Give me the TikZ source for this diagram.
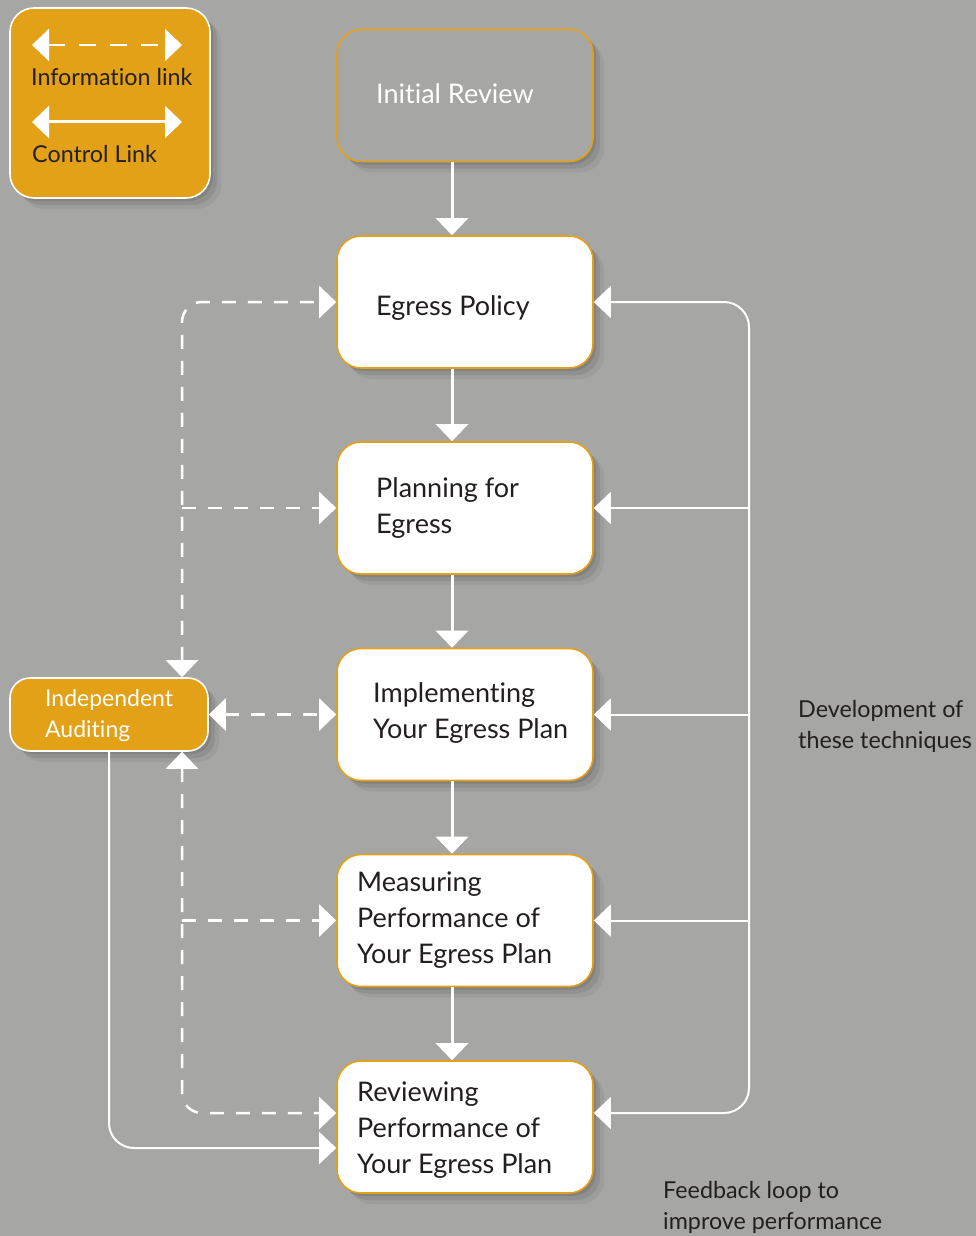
\documentclass[tikz,border=0pt]{standalone}
\usepackage{fontspec}
\setmainfont{Lato}[Ligatures=NoCommon]
\usetikzlibrary{arrows.meta,shadows}
\definecolor{bg}{HTML}{A6A6A5}
\definecolor{org}{HTML}{E3A118}
\definecolor{ink}{HTML}{231F20}
\begin{document}
\begin{tikzpicture}[x=1pt,y=-1pt,
  tri/.tip={Triangle[width=32pt,length=17pt]},
  softshadow/.style={
    drop shadow={shadow xshift=3pt, shadow yshift=-3pt, opacity=0.10, fill=black},
    drop shadow={shadow xshift=7pt, shadow yshift=-7pt, opacity=0.08, fill=black},
    drop shadow={shadow xshift=11pt, shadow yshift=-11pt, opacity=0.05, fill=black}},
  box/.style={draw=org, line width=1.6pt, fill=white, rounded corners=24pt,
    minimum width=256pt, minimum height=132pt, inner sep=0pt, softshadow},
  obox/.style={draw=white, line width=1.6pt, fill=org, inner sep=0pt, softshadow},
  txt/.style={font=\fontsize{27}{36}\selectfont, text=ink, align=left, inner sep=0pt, anchor=base west},
  wtxt/.style={font=\fontsize{23}{31}\selectfont, text=white, align=left, inner sep=0pt, anchor=base west},
  note/.style={font=\fontsize{23.3}{31}\selectfont, text=ink, align=left, inner sep=0pt, anchor=base west},
  ctl/.style={draw=white, line width=3pt},
  fb/.style={draw=white, line width=2pt},
  info/.style={draw=white, line width=2.5pt, dash pattern=on 14pt off 12pt},
]
\fill[bg] (0,0) rectangle (976,1236);
\useasboundingbox (0,0) rectangle (976,1236);

% legend
\node[obox, rounded corners=24pt, minimum width=200pt, minimum height=190pt] (leg) at (110,103) {};
\coordinate (l1a) at (32,45); \coordinate (l1b) at (182,45);
\coordinate (l2a) at (32,122); \coordinate (l2b) at (182,122);
\draw[info, dash pattern=on 17pt off 14pt, {tri}-{tri}] (l1a) -- (l1b);
\draw[ctl, {tri}-{tri}] (l2a) -- (l2b);
\node[note] (linfo) at (31,86) {Information link};
\node[note] (lctl) at (32,162) {Control Link};

% main boxes
\node[box, fill=bg] (ir) at (465,95.5) {};
\node[box] (ep) at (465,302) {};
\node[box] (pf) at (465,508) {};
\node[box] (im) at (465,714.5) {};
\node[box] (ms) at (465,920.5) {};
\node[box] (rv) at (465,1127) {};
\node[obox, rounded corners=20pt, minimum width=198pt, minimum height=73pt] (ia) at (109,714.5) {};

\node[txt, text=white] (tir) at (376,103) {Initial Review};
\node[txt] (tep) at (376,315) {Egress Policy};
\node[txt] (tpf) at (376,533) {Planning for\\Egress};
\node[txt] (tim) at (373,738) {Implementing\\Your Egress Plan};
\node[txt] (tms) at (357,963) {Measuring\\Performance of\\Your Egress Plan};
\node[txt] (trv) at (357,1173) {Reviewing\\Performance of\\Your Egress Plan};
\node[wtxt] (tia) at (45,737) {Independent\\Auditing};

\node[note] (ndev) at (798,748) {Development of\\these techniques};
\node[note] (nfb) at (663,1229) {Feedback loop to\\improve performance};

% vertical flow
\draw[ctl, -{tri}] ([xshift=-13pt]ir.south) -- ([xshift=-13pt]ep.north);
\draw[ctl, -{tri}] ([xshift=-13pt]ep.south) -- ([xshift=-13pt]pf.north);
\draw[ctl, -{tri}] ([xshift=-13pt]pf.south) -- ([xshift=-13pt]im.north);
\draw[ctl, -{tri}] ([xshift=-13pt]im.south) -- ([xshift=-13pt]ms.north);
\draw[ctl, -{tri}] ([xshift=-13pt]ms.south) -- ([xshift=-13pt]rv.north);

% right feedback loop
\coordinate (rtop) at (749,302);
\coordinate (rvr) at ([yshift=14pt]rv.east);
\coordinate (rbot) at (749,1113);
\draw[fb, rounded corners=25pt, {tri}-{tri}] (ep.east) -- (rtop) -- (rbot) -- (rvr);
\draw[fb, -{tri}] (rtop |- pf.east) -- (pf.east);
\draw[fb, -{tri}] (rtop |- im.east) -- (im.east);
\draw[fb, -{tri}] (rtop |- ms.east) -- (ms.east);

% left information links
\coordinate (ltop) at (182,302);
\coordinate (rvl) at ([yshift=14pt]rv.west);
\coordinate (lbot) at (182,1113);
\draw[info, rounded corners=20pt, {tri}-{tri}] (ltop |- ia.north) -- (ltop) -- (ep.west);
\draw[info, -{tri}] (ltop |- pf.west) -- (pf.west);
\draw[info, {tri}-{tri}] (ia.east) -- (im.west);
\draw[info, rounded corners=20pt, {tri}-{tri}] (ltop |- ia.south) -- (lbot) -- (rvl);
\draw[info, -{tri}] (ltop |- ms.west) -- (ms.west);

% control from auditing to reviewing
\coordinate (rvlow) at ([yshift=-21pt]rv.west);
\draw[fb, rounded corners=25pt, -{tri}] (ia.south) -- (ia.south |- rvlow) -- (rvlow);
\end{tikzpicture}
\end{document}
